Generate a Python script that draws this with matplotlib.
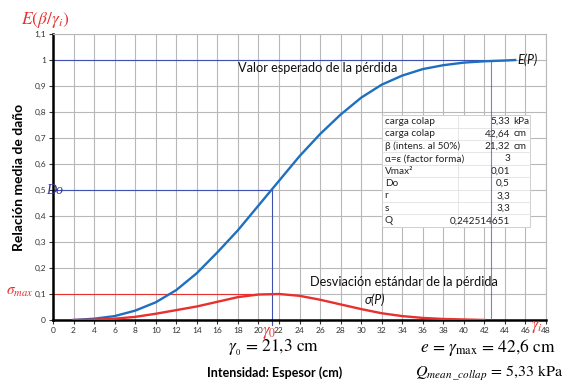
import matplotlib
matplotlib.use("Agg")
import matplotlib.pyplot as plt
from matplotlib.patches import Rectangle

##### DATA #####

# Expected loss E(P) vs thickness (cm)
x_mean = [2, 4, 6, 8, 10, 12, 14, 16, 18, 20, 22, 24, 26, 28, 30, 32, 34, 36, 38, 40, 42, 44, 45]
mean_loss = [0.0, 0.005, 0.015, 0.036, 0.068, 0.115, 0.18, 0.26, 0.345, 0.44, 0.535, 0.63,
             0.715, 0.79, 0.855, 0.905, 0.94, 0.965, 0.98, 0.99, 0.995, 0.998, 1.0]

# Standard deviation of the loss sigma(P)
x_std = [2, 4, 6, 8, 10, 12, 14, 16, 18, 20, 22, 24, 26, 28, 30, 32, 34, 36, 38, 40, 42]
std_loss = [0.0, 0.001, 0.005, 0.012, 0.024, 0.038, 0.052, 0.07, 0.088, 0.098, 0.1, 0.093,
            0.078, 0.06, 0.042, 0.026, 0.015, 0.008, 0.004, 0.002, 0.0]

gamma0 = 21.3
gamma_max = 42.6
sigma_max = 0.1
d0 = 0.5

x_ticks = list(range(0, 50, 2))
y_ticks = [0, 0.1, 0.2, 0.3, 0.4, 0.5, 0.6, 0.7, 0.8, 0.9, 1.0, 1.1]
y_tick_labels = ["0", "0,1", "0,2", "0,3", "0,4", "0,5", "0,6", "0,7", "0,8", "0,9", "1", "1,1"]

table_labels = ["carga colap", "carga colap", "β (intens. al 50%)", "α=ε (factor forma)",
                "Vmax²", "Do", "r", "s", "Q"]
table_values = ["5,33", "42,64", "21,32", "3", "0,01", "0,5", "3,3", "3,3", "0,242514651"]
table_units = ["kPa", "cm", "cm", "", "", "", "", "", ""]

##### PLOT #####

plt.rcParams["font.family"] = ["Lato", "DejaVu Sans"]
plt.rcParams["mathtext.fontset"] = "stix"

W, H = 570, 390
fig = plt.figure(figsize=(W / 100, H / 100), dpi=100)
ax = fig.add_axes([53 / W, 1 - 320 / H, (546 - 53) / W, (320 - 34) / H])

blue = "#1f6fc0"
red = "#e8302f"
thin_blue = "#4050b0"

ax.set_xlim(0, 48)
ax.set_ylim(0, 1.1)
ax.set_xticks(x_ticks)
ax.set_xticklabels([str(t) for t in x_ticks])
ax.set_yticks(y_ticks)
ax.set_yticklabels(y_tick_labels)
ax.tick_params(labelsize=6, colors="#333333", length=3, width=0.8, pad=2)
ax.grid(True, color="#b8b8b8", linewidth=0.8, zorder=0)
ax.set_axisbelow(True)
for s in ["top", "right"]:
    ax.spines[s].set_color("#b8b8b8")
    ax.spines[s].set_linewidth(0.8)
for s in ["left", "bottom"]:
    ax.spines[s].set_color("black")
    ax.spines[s].set_linewidth(1.8)

# Reference lines
ax.plot([0, 45], [1, 1], color=thin_blue, lw=0.8, zorder=2)
ax.plot([0, gamma0], [d0, d0], color=thin_blue, lw=0.8, zorder=2)
ax.plot([gamma0, gamma0], [-0.02, d0], color=thin_blue, lw=0.8, zorder=2, clip_on=False)
ax.plot([0, gamma0], [sigma_max, sigma_max], color=red, lw=0.8, zorder=2)

# Table of parameters
tx0, tx1, tdiv = 32.0, 46.4, 39.4
ty_top, ty_bot = 0.788, 0.358
ax.add_patch(Rectangle((tx0, ty_bot), tx1 - tx0, ty_top - ty_bot, facecolor="white",
                       edgecolor="#c8c8c8", lw=0.6, zorder=3))
rh = (ty_top - ty_bot) / len(table_labels)
for i in range(len(table_labels)):
    yc = ty_top - (i + 0.5) * rh
    if i > 0:
        ax.plot([tx0, tx1], [ty_top - i * rh] * 2, color="#dcdcdc", lw=0.5, zorder=3)
    ax.text(tx0 + 0.3, yc, table_labels[i], fontsize=7.2, va="center", ha="left",
            color="#222222", zorder=4)
    ax.text(44.5, yc, table_values[i], fontsize=7.2, va="center", ha="right",
            color="#222222", zorder=4)
    if table_units[i]:
        ax.text(44.8, yc, table_units[i], fontsize=7.2, va="center", ha="left",
                color="#222222", zorder=4)
ax.plot([tdiv, tdiv], [ty_bot, ty_top], color="#dcdcdc", lw=0.5, zorder=3)

ax.plot([gamma_max, gamma_max], [0, 1], color=thin_blue, lw=0.8, zorder=5, alpha=0.7)

# Curves
ax.plot(x_mean, mean_loss, color=blue, lw=1.7, zorder=6)
ax.plot(x_std, std_loss, color=red, lw=1.7, zorder=6)

# Labels in the plot
ax.text(18.0, 0.955, "Valor esperado de la pérdida", fontsize=9.2, color="#111111", zorder=6)
ax.text(25.0, 0.13, "Desviación estándar de la pérdida", fontsize=9.2, color="#111111", zorder=6)
ax.text(30.3, 0.06, "σ(P)", fontsize=9, style="italic", color="#111111", zorder=6)
ax.text(45.2, 1.0, "E(P)", fontsize=9, style="italic", color="#111111", va="center", zorder=6)

ax.set_ylabel("Relación media de daño", fontsize=10, fontweight="bold", labelpad=7)

def fx(px):
    return px / W

def fy(py):
    return 1 - py / H

fig.text(fx(21), fy(20), r"$E(\beta/\gamma_i)$", fontsize=12.5, color=red, va="center")
fig.text(fx(46), fy(190), "Do", fontsize=10, color="#3030a0", va="center",
         family="Liberation Serif", style="italic")
fig.text(fx(6), fy(292), r"$\sigma_{max}$", fontsize=11, color=red, va="center")
fig.text(fx(262), fy(333), r"$\gamma_0$", fontsize=12, color=red, va="center")
fig.text(fx(531), fy(327), r"$\gamma_i$", fontsize=12, color=red, va="center")

fig.text(fx(228), fy(348), r"$\gamma_{_0}$ = 21,3 cm", fontsize=12.5, va="center",
         family="STIXGeneral")
fig.text(fx(420), fy(347), r"$e$ = $\gamma_{\rm max}$ = 42,6 cm", fontsize=12.5, va="center",
         family="STIXGeneral")
fig.text(fx(415), fy(373), r"$Q_{mean\,\_collap}$ = 5,33 kPa", fontsize=11.5, va="center",
         family="STIXGeneral")
fig.text(fx(275), fy(373), "Intensidad: Espesor (cm)", fontsize=9, fontweight="bold",
         ha="center", va="center")

fig.savefig("out.png", dpi=100)
